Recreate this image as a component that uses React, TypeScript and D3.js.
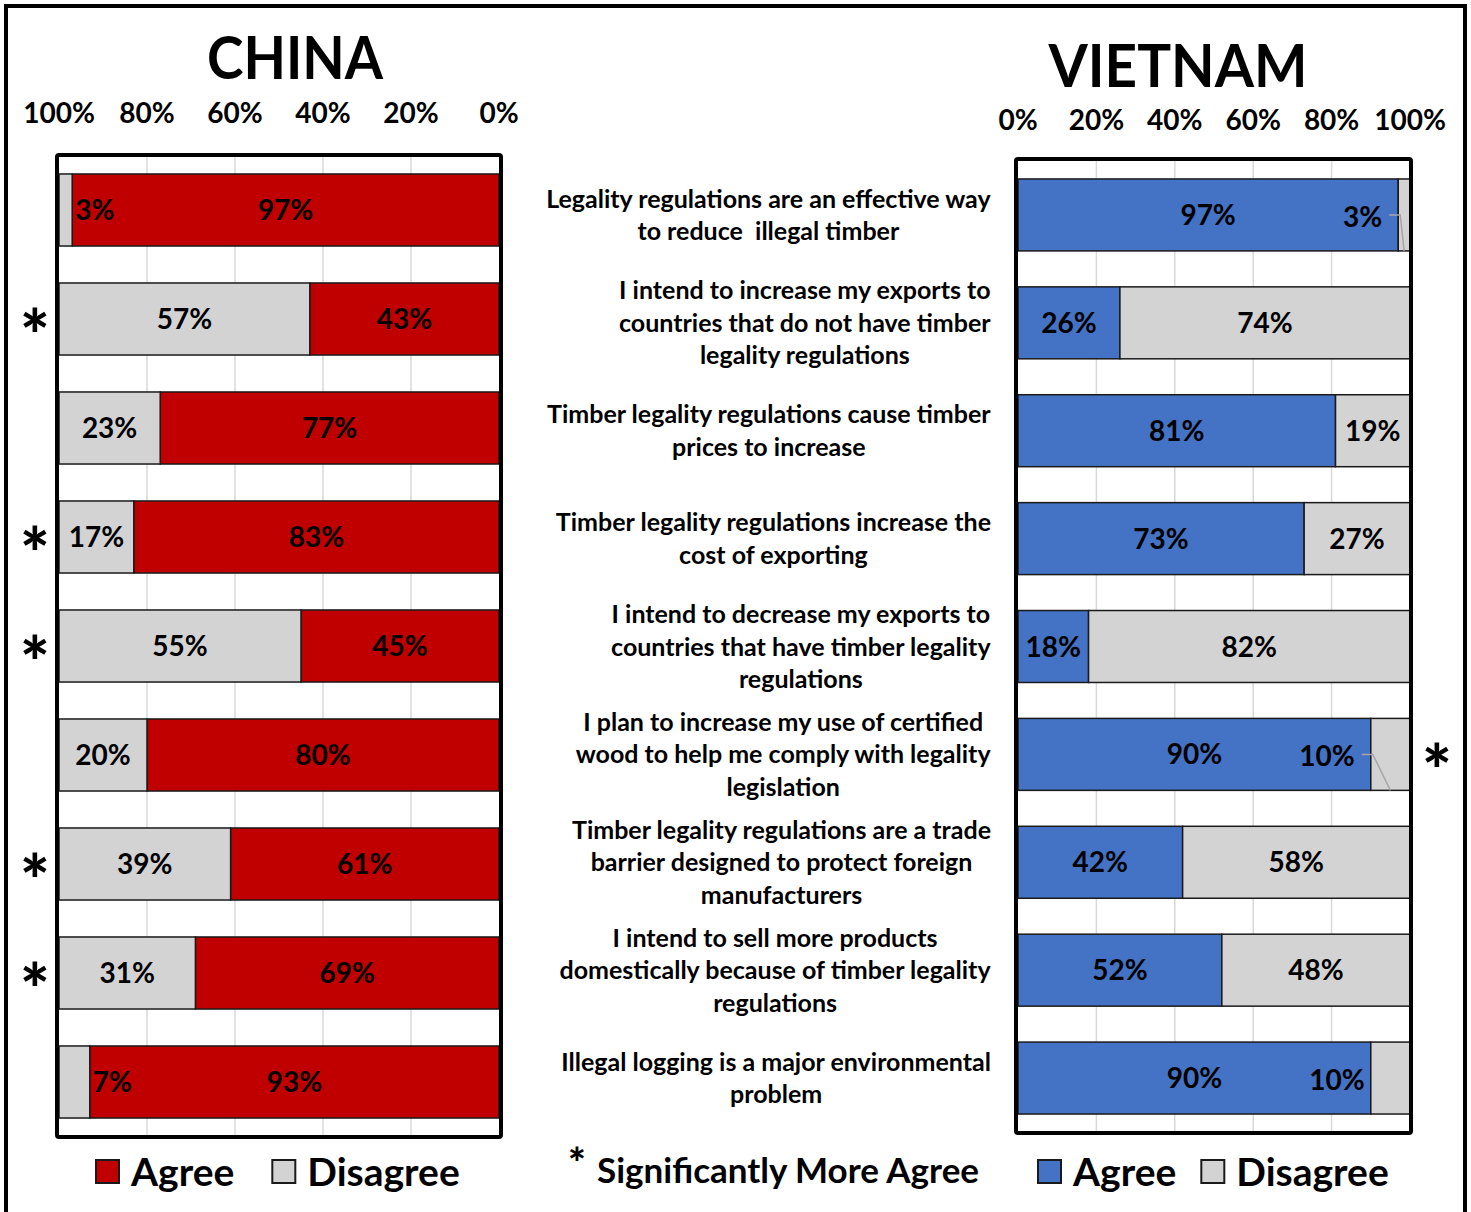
import React, { useEffect, useRef } from "react";
import * as d3 from "d3";

const categories: string[][] = [
  ["Legality regulations are an effective way", "to reduce  illegal timber"],
  ["I intend to increase my exports to", "countries that do not have timber", "legality regulations"],
  ["Timber legality regulations cause timber", "prices to increase"],
  ["Timber legality regulations increase the", "cost of exporting"],
  ["I intend to decrease my exports to", "countries that have timber legality", "regulations"],
  ["I plan to increase my use of certified", "wood to help me comply with legality", "legislation"],
  ["Timber legality regulations are a trade", "barrier designed to protect foreign", "manufacturers"],
  ["I intend to sell more products", "domestically because of timber legality", "regulations"],
  ["Illegal logging is a major environmental", "problem"],
];
const chinaAgree = [97, 43, 77, 83, 45, 80, 61, 69, 93];
const chinaDisagree = [3, 57, 23, 17, 55, 20, 39, 31, 7];
const vietnamAgree = [97, 26, 81, 73, 18, 90, 42, 52, 90];
const vietnamDisagree = [3, 74, 19, 27, 82, 10, 58, 48, 10];
const chinaSignificant = [false, true, false, true, true, false, true, true, false];
const vietnamSignificant = [false, false, false, false, false, true, false, false, false];
const vietnamLeader = [true, false, false, false, false, true, false, false, false];
const tickValues = [0, 20, 40, 60, 80, 100];
const seriesNames = ["Agree", "Disagree"];

const RED = "#C00000";
const BLUE = "#4472C4";
const GREY = "#D3D3D3";
const FONT = "Lato, 'Open Sans', sans-serif";

export default function App() {
  const ref = useRef<SVGSVGElement | null>(null);

  useEffect(() => {
    const svg = d3.select(ref.current);
    svg.selectAll("*").remove();
    const idx = d3.range(categories.length);

    svg.append("rect").attr("x", 6).attr("y", 6).attr("width", 1459).attr("height", 1230)
      .attr("fill", "none").attr("stroke", "#000").attr("stroke-width", 4);

    const fmt = (v: number) => `${v}%`;
    const LBL = 28;

    // ---------- CHINA ----------
    const cx = d3.scaleLinear().domain([0, 100]).range([499, 59]);
    const cy = d3.scaleBand<number>().domain(idx).range([155.5, 1136.5]).paddingInner(0.339).paddingOuter(0.1695);
    const china = svg.append("g");
    china.append("text").attr("x", 295).attr("y", 79).attr("text-anchor", "middle")
      .attr("font-family", FONT).attr("font-weight", 700).attr("font-size", 60)
      .attr("textLength", 176).attr("lengthAdjust", "spacingAndGlyphs").text("CHINA");
    china.selectAll(".gl").data(tickValues.filter(t => t > 0 && t < 100)).join("line")
      .attr("x1", d => cx(d)).attr("x2", d => cx(d)).attr("y1", 157).attr("y2", 1135)
      .attr("stroke", "#D9D9D9").attr("stroke-width", 1.5);
    china.selectAll(".tk").data(tickValues).join("text")
      .attr("x", d => cx(d)).attr("y", 113).attr("dy", "0.36em").attr("text-anchor", "middle")
      .attr("font-family", FONT).attr("font-weight", 700).attr("font-size", LBL).text(fmt);
    china.selectAll(".ag").data(idx).join("rect")
      .attr("x", i => cx(chinaAgree[i])).attr("width", i => cx(0) - cx(chinaAgree[i]))
      .attr("y", i => cy(i)!).attr("height", cy.bandwidth())
      .attr("fill", RED).attr("stroke", "#1a1a1a").attr("stroke-width", 1.5);
    china.selectAll(".dg").data(idx).join("rect")
      .attr("x", i => cx(100)).attr("width", i => cx(chinaAgree[i]) - cx(100))
      .attr("y", i => cy(i)!).attr("height", cy.bandwidth())
      .attr("fill", GREY).attr("stroke", "#1a1a1a").attr("stroke-width", 1.5);
    china.selectAll(".agl").data(idx).join("text")
      .attr("x", i => cx(chinaAgree[i] / 2)).attr("y", i => cy(i)! + cy.bandwidth() / 2)
      .attr("dy", "0.36em").attr("text-anchor", "middle")
      .attr("font-family", FONT).attr("font-weight", 700).attr("font-size", LBL).text(i => fmt(chinaAgree[i]));
    china.selectAll(".dgl").data(idx).join("text")
      .attr("x", i => chinaDisagree[i] < 10 ? cx(chinaAgree[i]) + 3 : cx(chinaAgree[i] + chinaDisagree[i] / 2))
      .attr("y", i => cy(i)! + cy.bandwidth() / 2)
      .attr("dy", "0.36em").attr("text-anchor", i => chinaDisagree[i] < 10 ? "start" : "middle")
      .attr("font-family", FONT).attr("font-weight", 700).attr("font-size", LBL).text(i => fmt(chinaDisagree[i]));
    china.append("rect").attr("x", 57).attr("y", 155).attr("width", 444).attr("height", 982)
      .attr("rx", 2).attr("fill", "none").attr("stroke", "#000").attr("stroke-width", 4);
    china.selectAll(".ast").data(idx.filter(i => chinaSignificant[i])).join("text")
      .attr("x", 35).attr("y", i => cy(i)! + cy.bandwidth() / 2).attr("dy", "0.6em")
      .attr("text-anchor", "middle").attr("font-family", FONT).attr("font-weight", 900)
      .attr("font-size", 70).text("*");

    // ---------- VIETNAM ----------
    const vx = d3.scaleLinear().domain([0, 100]).range([1018, 1410]);
    const vy = d3.scaleBand<number>().domain(idx).range([161, 1132]).paddingInner(0.333).paddingOuter(0.1665);
    const viet = svg.append("g");
    viet.append("text").attr("x", 1178).attr("y", 87).attr("text-anchor", "middle")
      .attr("font-family", FONT).attr("font-weight", 700).attr("font-size", 59)
      .attr("textLength", 259).attr("lengthAdjust", "spacingAndGlyphs").text("VIETNAM");
    viet.selectAll(".gl").data(tickValues.filter(t => t > 0 && t < 100)).join("line")
      .attr("x1", d => vx(d)).attr("x2", d => vx(d)).attr("y1", 161).attr("y2", 1131)
      .attr("stroke", "#D9D9D9").attr("stroke-width", 1.5);
    viet.selectAll(".tk").data(tickValues).join("text")
      .attr("x", d => vx(d)).attr("y", 120).attr("dy", "0.36em").attr("text-anchor", "middle")
      .attr("font-family", FONT).attr("font-weight", 700).attr("font-size", LBL).text(fmt);
    viet.selectAll(".ag").data(idx).join("rect")
      .attr("x", vx(0)).attr("width", i => vx(vietnamAgree[i]) - vx(0))
      .attr("y", i => vy(i)!).attr("height", vy.bandwidth())
      .attr("fill", BLUE).attr("stroke", "#1a1a1a").attr("stroke-width", 1.5);
    viet.selectAll(".dg").data(idx).join("rect")
      .attr("x", i => vx(vietnamAgree[i])).attr("width", i => vx(100) - vx(vietnamAgree[i]))
      .attr("y", i => vy(i)!).attr("height", vy.bandwidth())
      .attr("fill", GREY).attr("stroke", "#1a1a1a").attr("stroke-width", 1.5);
    viet.selectAll(".agl").data(idx).join("text")
      .attr("x", i => vx(vietnamAgree[i] / 2)).attr("y", i => vy(i)! + vy.bandwidth() / 2)
      .attr("dy", "0.36em").attr("text-anchor", "middle")
      .attr("font-family", FONT).attr("font-weight", 700).attr("font-size", LBL).text(i => fmt(vietnamAgree[i]));
    const small = (i: number) => vietnamDisagree[i] <= 10;
    const smallEnd = (i: number) => vx(vietnamAgree[i]) - (vietnamLeader[i] ? 16 : 6);
    viet.selectAll(".dgl").data(idx).join("text")
      .attr("x", i => small(i) ? smallEnd(i) : vx(vietnamAgree[i] + vietnamDisagree[i] / 2))
      .attr("y", i => vy(i)! + vy.bandwidth() / 2 + (small(i) ? 2 : 0))
      .attr("dy", "0.36em").attr("text-anchor", i => small(i) ? "end" : "middle")
      .attr("font-family", FONT).attr("font-weight", 700).attr("font-size", LBL).text(i => fmt(vietnamDisagree[i]));
    viet.selectAll(".ld").data(idx.filter(i => vietnamLeader[i])).join("path")
      .attr("d", i => {
        const x0 = smallEnd(i) + 7;
        const y0 = vy(i)! + vy.bandwidth() / 2;
        const xc = vx(vietnamAgree[i] + vietnamDisagree[i] / 2);
        return `M${x0},${y0}H${x0 + 11}L${xc},${vy(i)! + vy.bandwidth()}`;
      })
      .attr("fill", "none").attr("stroke", "#A6A6A6").attr("stroke-width", 1.5);
    viet.append("rect").attr("x", 1016).attr("y", 159).attr("width", 395).attr("height", 974)
      .attr("rx", 2).attr("fill", "none").attr("stroke", "#000").attr("stroke-width", 4);
    viet.selectAll(".ast").data(idx.filter(i => vietnamSignificant[i])).join("text")
      .attr("x", 1437).attr("y", i => vy(i)! + vy.bandwidth() / 2).attr("dy", "0.6em")
      .attr("text-anchor", "middle").attr("font-family", FONT).attr("font-weight", 900)
      .attr("font-size", 70).text("*");

    // ---------- category labels ----------
    const lineH = 32.5;
    idx.forEach(i => {
      const g = svg.append("g");
      const lines = categories[i];
      const yc = vy(i)! + vy.bandwidth() / 2;
      lines.forEach((ln, k) => {
        g.append("text").attr("x", 0).attr("y", yc + (k - (lines.length - 1) / 2) * lineH)
          .attr("dy", "0.36em").attr("text-anchor", "middle")
          .attr("font-family", FONT).attr("font-weight", 700).attr("font-size", 25)
          .style("white-space", "pre").text(ln);
      });
      const bb = (g.node() as SVGGElement).getBBox();
      g.attr("transform", `translate(${991 - bb.width / 2},0)`);
    });

    // ---------- legends ----------
    const legend = (x0: number, color: string, gap: number) => {
      const lg = svg.append("g");
      let x = x0;
      seriesNames.forEach((name, k) => {
        lg.append("rect").attr("x", x).attr("y", 1160).attr("width", 23).attr("height", 23)
          .attr("fill", k === 0 ? color : GREY).attr("stroke", "#1a1a1a").attr("stroke-width", 2);
        const t = lg.append("text").attr("x", x + 35).attr("y", 1172).attr("dy", "0.36em")
          .attr("font-family", FONT).attr("font-weight", 700).attr("font-size", 39).text(name);
        x = x + 35 + (t.node() as SVGTextElement).getComputedTextLength() + gap;
      });
    };
    legend(96, RED, 38);
    legend(1038, BLUE, 25);

    svg.append("text").attr("x", 577).attr("y", 1178).attr("text-anchor", "middle")
      .attr("font-family", FONT).attr("font-weight", 900).attr("font-size", 42).text("*");
    svg.append("text").attr("x", 597).attr("y", 1170).attr("dy", "0.36em")
      .attr("font-family", FONT).attr("font-weight", 700).attr("font-size", 35).text("Significantly More Agree");
  }, []);

  return (
    <svg ref={ref} width={1471} height={1212}
      style={{ position: "absolute", left: 0, top: 0, background: "#fff" }} />
  );
}
